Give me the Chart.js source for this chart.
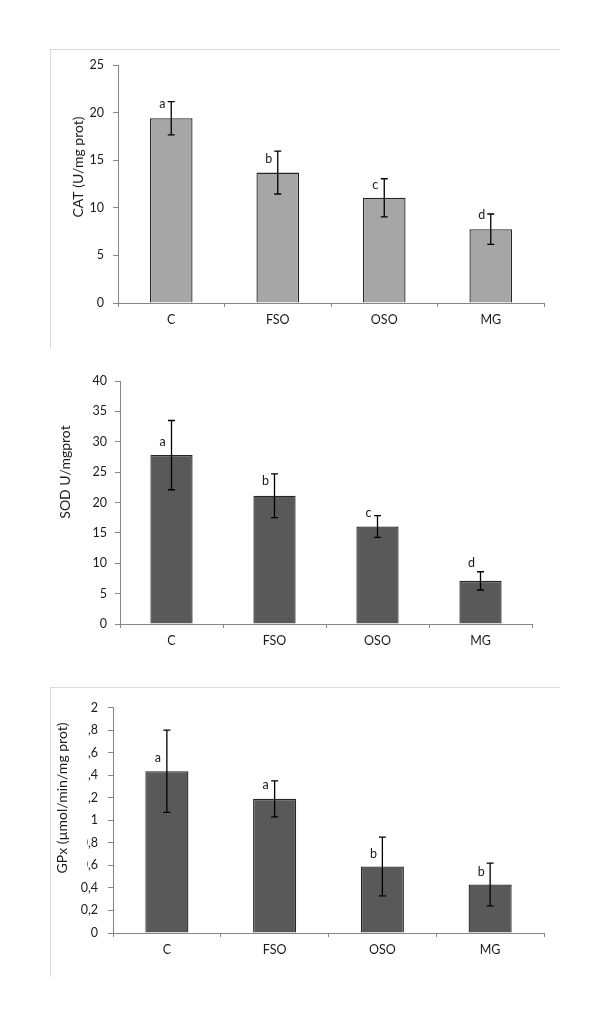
<!DOCTYPE html>
<html>
<head>
<meta charset="utf-8">
<script src="https://cdn.jsdelivr.net/npm/chart.js@4.4.1/dist/chart.umd.min.js"></script>
<style>
    body { margin: 0; background: #fff; width: 600px; height: 1012px; position: relative; overflow: hidden; }
    .panel { position: absolute; left: 0; width: 600px; }
    .frame { position: absolute; background: #dadada; }
</style>
</head>
<body>
<div class="frame" style="left:50px;top:49px;width:510px;height:1px"></div>
<div class="frame" style="left:50px;top:49px;width:1px;height:300px"></div>
<div class="frame" style="left:50px;top:687px;width:510px;height:1px"></div>
<div class="frame" style="left:50px;top:687px;width:1px;height:290px"></div>

<div class="panel" id="p1" style="top:40px;height:320px"><canvas id="grCat"></canvas></div>
<div class="panel" id="p2" style="top:360px;height:310px"><canvas id="grSod"></canvas></div>
<div class="panel" id="p3" style="top:690px;height:300px"><canvas id="grGpx"></canvas></div>

<script>
const groups = ['C', 'FSO', 'OSO', 'MG'];

const catMeans = [19.4, 13.7, 11.05, 7.75];
const catErrors = [1.75, 2.25, 2.0, 1.6];
const catLetters = ['a', 'b', 'c', 'd'];
const catLetterY = [20.9, 15.1, 12.4, 9.2];
const catTicks = ['0', '5', '10', '15', '20', '25'];

const sodMeans = [27.8, 21.1, 16.05, 7.1];
const sodErrors = [5.7, 3.6, 1.8, 1.5];
const sodLetters = ['a', 'b', 'c', 'd'];
const sodLetterY = [30.0, 23.6, 18.3, 10.1];
const sodTicks = ['0', '5', '10', '15', '20', '25', '30', '35', '40'];

const gpxMeans = [1.435, 1.19, 0.59, 0.43];
const gpxErrors = [0.365, 0.16, 0.26, 0.19];
const gpxLetters = ['a', 'a', 'b', 'b'];
const gpxLetterY = [1.55, 1.31, 0.705, 0.54];
const gpxTicks = ['0', '0,2', '0,4', '0,6', '0,8', '1', '1,2', '1,4', '1,6', '1,8', '2'];

const FONT = 'Lato, "Open Sans", sans-serif';
const AXIS = '#868686';
const INK = '#1a1a1a';

// error bars, letters and the y title box
const barExtras = {
    id: 'barExtras',
    afterDatasetsDraw(chart, args, o) {
        const ctx = chart.ctx, y = chart.scales.y;
        const bars = chart.getDatasetMeta(0).data;
        ctx.save();
        ctx.strokeStyle = '#000';
        ctx.lineWidth = 1.3;
        bars.forEach((b, i) => {
            const top = y.getPixelForValue(o.means[i] + o.errors[i]);
            const bot = y.getPixelForValue(o.means[i] - o.errors[i]);
            ctx.beginPath();
            ctx.moveTo(b.x, top); ctx.lineTo(b.x, bot);
            ctx.moveTo(b.x - 3.5, top); ctx.lineTo(b.x + 3.5, top);
            ctx.moveTo(b.x - 3.5, bot); ctx.lineTo(b.x + 3.5, bot);
            ctx.stroke();
        });
        ctx.fillStyle = INK;
        ctx.font = '12.5px ' + FONT;
        ctx.textAlign = 'center';
        ctx.textBaseline = 'middle';
        bars.forEach((b, i) => ctx.fillText(o.letters[i], b.x - 9, y.getPixelForValue(o.letterY[i])));
        ctx.restore();
    },
    afterDraw(chart, args, o) {
        const ctx = chart.ctx;
        ctx.save();
        if (o.mask) {
            ctx.fillStyle = '#fff';
            ctx.fillRect(o.mask[0], o.mask[1] - o.offsetTop, o.mask[2], o.mask[3]);
        }
        ctx.translate(o.titleX, o.titleY - o.offsetTop);
        ctx.rotate(-Math.PI / 2);
        ctx.fillStyle = INK;
        ctx.font = '14px ' + FONT;
        ctx.textAlign = 'center';
        ctx.textBaseline = 'middle';
        ctx.fillText(o.title, 0, 0);
        ctx.restore();
    }
};

function drawPanel(id, cfg) {
    const box = document.getElementById(id).parentNode;
    const top0 = box.offsetTop, h = box.offsetHeight;
    const plot = cfg.plot;

    return new Chart(document.getElementById(id), {
        type: 'bar',
        data: {
            labels: groups,
            datasets: [{
                data: cfg.means,
                backgroundColor: cfg.fill,
                borderColor: '#262626',
                borderWidth: 1.3,
                categoryPercentage: 1,
                barPercentage: cfg.barPct
            }]
        },
        options: {
            responsive: true,
            maintainAspectRatio: false,
            animation: false,
            layout: { padding: { left: 0, right: 600 - plot.right, top: plot.top - top0, bottom: 0 } },
            plugins: {
                legend: { display: false },
                tooltip: { enabled: false },
                barExtras: {
                    means: cfg.means, errors: cfg.errors,
                    letters: cfg.letters, letterY: cfg.letterY,
                    title: cfg.title, titleX: cfg.titleX, titleY: cfg.titleY,
                    mask: cfg.mask || null, offsetTop: top0
                }
            },
            scales: {
                x: {
                    afterFit: s => { s.height = top0 + h - plot.bottom; },
                    grid: { display: true, drawOnChartArea: false, tickLength: 4, color: AXIS, offset: true },
                    border: { color: AXIS, width: 1 },
                    ticks: { color: INK, font: { family: FONT, size: 12.5 }, padding: 5 }
                },
                y: {
                    min: cfg.min, max: cfg.max,
                    afterFit: s => { s.width = plot.left; },
                    afterBuildTicks: s => { s.ticks = cfg.ticks.map((t, i) => ({ value: cfg.min + i * cfg.step })); },
                    grid: { display: true, drawOnChartArea: false, tickLength: 5, color: AXIS },
                    border: { color: AXIS, width: 1 },
                    ticks: {
                        color: INK, font: { family: FONT, size: 12.5 }, padding: cfg.tickPad,
                        callback: (v, i) => cfg.ticks[i]
                    }
                }
            }
        },
        plugins: [barExtras]
    });
}

drawPanel('grCat', {
    plot: { left: 118, right: 544, top: 65, bottom: 303 },
    means: catMeans, errors: catErrors, letters: catLetters, letterY: catLetterY,
    ticks: catTicks, min: 0, max: 25, step: 5, tickPad: 9,
    fill: '#a6a6a6', barPct: 0.4,
    title: 'CAT (U/mg prot)', titleX: 78, titleY: 167
});

drawPanel('grSod', {
    plot: { left: 120, right: 532, top: 381, bottom: 624 },
    means: sodMeans, errors: sodErrors, letters: sodLetters, letterY: sodLetterY,
    ticks: sodTicks, min: 0, max: 40, step: 5, tickPad: 8,
    fill: '#595959', barPct: 0.41,
    title: 'SOD U/mgprot', titleX: 65, titleY: 472
});

drawPanel('grGpx', {
    plot: { left: 113, right: 544, top: 703, bottom: 933 },
    means: gpxMeans, errors: gpxErrors, letters: gpxLetters, letterY: gpxLetterY,
    ticks: gpxTicks, min: 0, max: 2, step: 0.2, tickPad: 10,
    fill: '#595959', barPct: 0.4,
    title: 'GPx (µmol/min/mg prot)', titleX: 62, titleY: 798,
    mask: [52, 721, 35, 154]
});
</script>
</body>
</html>
